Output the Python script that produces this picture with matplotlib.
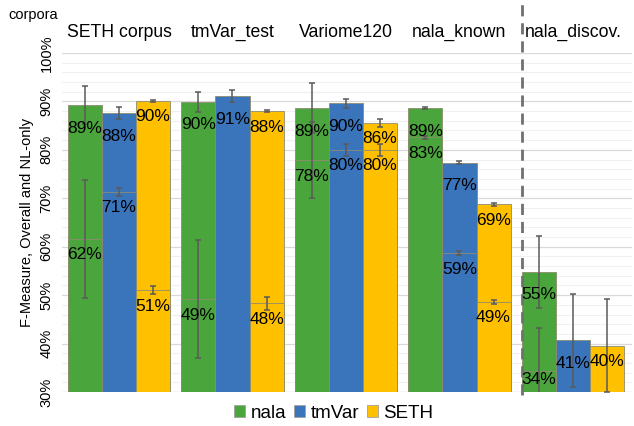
import numpy as np
import matplotlib
matplotlib.use("Agg")
import matplotlib.pyplot as plt
from matplotlib.patches import Patch

plt.rcParams['font.family'] = ['Liberation Sans', 'DejaVu Sans']

corpora = ["SETH corpus", "tmVar_test", "Variome120", "nala_known", "nala_discov."]
methods = ["nala", "tmVar", "SETH"]
colors = ["#4aa63c", "#3a74ba", "#ffc000"]

overall = {
    "nala":  [89.2, 89.9, 88.6, 88.6, 54.8],
    "tmVar": [87.6, 91.1, 89.6, 77.3, 40.7],
    "SETH":  [90.1, 88.0, 85.6, 68.8, 39.6],
}
overall_err = {
    "nala":  [3.9, 2.1, 5.2, 0.2, 7.5],
    "tmVar": [1.2, 1.2, 1.0, 0.3, 9.6],
    "SETH":  [0.2, 0.2, 0.8, 0.3, 9.6],
}
nl_only = {
    "nala":  [61.6, 49.2, 77.9, 82.6, 34.3],
    "tmVar": [71.3, None, 80.0, 58.7, None],
    "SETH":  [51.0, 48.3, 80.0, 48.6, None],
}
nl_err = {
    "nala":  [12.2, 12.2, 7.8, 0.3, 9.0],
    "tmVar": [0.8, None, 1.3, 0.5, None],
    "SETH":  [0.8, 1.4, 1.3, 0.5, None],
}
yticks = [30, 40, 50, 60, 70, 80, 90, 100]

fig = plt.figure(figsize=(6.34, 4.26), dpi=100)
ax = fig.add_axes([62/634, 34/426, 570/634, 339/426])

x = np.arange(len(corpora))
width = 0.3
edge = "#8c8c6e"
errc = "#5a5a5a"
px = 339 / 70.0  # pixels per percent
off_over = {"nala": 23, "tmVar": 23, "SETH": 16}

for i, m in enumerate(methods):
    xs = x + (i - 1) * width
    ax.bar(xs, np.array(overall[m]) - 30, width, bottom=30, color=colors[i],
           edgecolor=edge, linewidth=0.6, zorder=2)
    ax.errorbar(xs, overall[m], yerr=overall_err[m], fmt='none', ecolor=errc,
                elinewidth=1.1, capsize=2, capthick=1.1, zorder=5)
    for xx, v in zip(xs, overall[m]):
        ax.text(xx, v - off_over[m] / px, f"{v:.0f}%", ha='center', va='center',
                fontsize=12.5, color='black', zorder=6)
    for xx, v, e in zip(xs, nl_only[m], nl_err[m]):
        if v is None:
            continue
        ax.bar(xx, v - 30, width, bottom=30, color=colors[i], edgecolor=edge,
               linewidth=0.6, zorder=3)
        ax.errorbar(xx, v, yerr=e, fmt='none', ecolor=errc, elinewidth=1.1,
                    capsize=2, capthick=1.1, zorder=5)
        ly = max(v - 16 / px, 32.5)
        ax.text(xx, ly, f"{v:.0f}%", ha='center', va='center', fontsize=12.5,
                color='black', zorder=6)

ax.set_xlim(-0.502, 4.52)
ax.set_ylim(30, 100)
ax.set_yticks(yticks)
ax.set_yticklabels([f"{t}%" for t in yticks], rotation=90, va='center', fontsize=10.5)
ax.set_yticks(np.arange(30, 101, 2), minor=True)
ax.tick_params(axis='y', which='both', length=0, pad=6)
ax.set_xticks([])
ax.grid(axis='y', which='major', color='#d9d9d9', linewidth=0.9, zorder=0)
ax.grid(axis='y', which='minor', color='#f0f0f0', linewidth=0.8, zorder=0)
ax.set_axisbelow(True)
for s in ax.spines.values():
    s.set_visible(False)
ax.axhline(30, color='#d9d9d9', linewidth=0.9, zorder=1)

ax.set_ylabel("F-Measure, Overall and NL-only", fontsize=10.5, labelpad=4)

for xx, name in zip(x, corpora):
    ax.text(xx, 104.2, name, ha='center', va='center', fontsize=12.7, clip_on=False)

ax.plot([3.55, 3.55], [29.4, 110.4], linestyle=(0, (4, 2.5)), color='#707070',
        linewidth=2, clip_on=False, zorder=4)

fig.text(8/634, 1 - 15/426, "corpora", ha='left', va='center', fontsize=10.5)

handles = [Patch(facecolor=c, edgecolor='#a0a0a0', linewidth=0.6) for c in colors]
fig.legend(handles, methods, loc='center', bbox_to_anchor=(0.526, 0.03), ncol=3,
           frameon=False, fontsize=13.5, handlelength=0.6, handleheight=0.6,
           handletextpad=0.3, columnspacing=0.4, borderpad=0.1)

fig.savefig("out.png", dpi=100)
